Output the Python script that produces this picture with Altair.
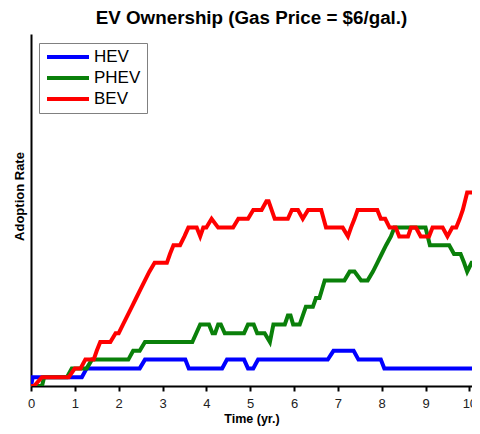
import altair as alt
import pandas as pd

SERIES = ["HEV", "PHEV", "BEV"]
COLORS = ["#0000ff", "#0a800a", "#ff0000"]
X_TICKS = [0, 1, 2, 3, 4, 5, 6, 7, 8, 9, 10]

HEV_T = [0, 0.04, 1.16, 1.27, 2.48, 2.6, 3.52, 3.6, 4.36, 4.47, 4.86, 4.95, 5.07, 5.18,
         6.77, 6.9, 7.36, 7.47, 7.98, 8.06, 10.14]
HEV_Y = [0, 1, 1, 2, 2, 3, 3, 2, 2, 3, 3, 2, 2, 3,
         3, 4, 4, 3, 3, 2, 2]

PHEV_T = [0, 0.25, 0.3, 0.82, 0.93, 1.27, 1.39, 2.22, 2.33, 2.48,
          2.6, 3.68, 3.77, 3.86, 4.06, 4.14, 4.2, 4.27, 4.33, 4.42,
          4.86, 4.95, 5.08, 5.16, 5.33, 5.45, 5.53, 5.79, 5.86, 5.92,
          5.98, 6.13, 6.2, 6.27, 6.43, 6.5, 6.58, 6.64, 6.7, 7.15,
          7.27, 7.38, 7.53, 7.68, 7.8, 7.9, 8.0, 8.1, 8.21, 8.29,
          9.0, 9.1, 9.54, 9.65, 9.8, 9.88, 9.95, 10.05, 10.14]
PHEV_Y = [0, 0, 1, 1, 2, 2, 3, 3, 4, 4,
          5, 5, 6, 7, 7, 6, 6, 7, 7, 6,
          6, 7, 7, 6, 6, 5, 7, 7, 8, 8,
          7, 7, 8, 9, 9, 10, 10, 11, 12, 12,
          13, 13, 12, 12, 13, 14, 15, 16, 17, 18,
          18, 16, 16, 15, 15, 14, 13, 14, 14]

BEV_T = [0, 0.07, 0.25, 0.86, 1.0, 1.13, 1.24, 1.43, 1.5, 1.58,
         1.81, 1.93, 2.0, 2.1, 2.2, 2.3, 2.4, 2.5, 2.6, 2.7,
         2.82, 3.1, 3.17, 3.25, 3.4, 3.5, 3.59, 3.78, 3.86, 3.93,
         4.0, 4.12, 4.27, 4.61, 4.73, 4.95, 5.07, 5.26, 5.37, 5.42,
         5.56, 5.86, 5.95, 6.09, 6.2, 6.32, 6.62, 6.73, 7.11, 7.23,
         7.3, 7.38, 7.45, 7.9, 7.98, 8.08, 8.18, 8.32, 8.4, 8.6,
         8.67, 8.78, 8.89, 9.08, 9.16, 9.39, 9.5, 9.61, 9.7, 9.78,
         9.85, 9.9, 9.95, 10.14]
BEV_Y = [0, 0, 1, 1, 2, 2, 3, 3, 4, 5,
         5, 6, 6, 7, 8, 9, 10, 11, 12, 13,
         14, 14, 15, 16, 16, 17, 18, 18, 17, 18,
         18, 19, 18, 18, 19, 19, 20, 20, 21, 21,
         19, 19, 20, 20, 19, 20, 20, 18, 18, 17,
         18, 19, 20, 20, 19, 19, 18, 18, 17, 17,
         18, 18, 17, 17, 18, 18, 17, 18, 18, 19,
         20, 21, 22, 22]

rows = []
for name, ts, ys in [("HEV", HEV_T, HEV_Y), ("PHEV", PHEV_T, PHEV_Y), ("BEV", BEV_T, BEV_Y)]:
    for t, y in zip(ts, ys):
        rows.append({"series": name, "t": t, "level": y})
df = pd.DataFrame(rows)

FONT = "Liberation Sans"

chart = alt.Chart(df).mark_line(strokeWidth=4, clip=True).encode(
    x=alt.X("t:Q",
            scale=alt.Scale(domain=[0, 10.06], nice=False, zero=False),
            axis=alt.Axis(title="Time (yr.)", values=X_TICKS, grid=False,
                          tickSize=5, tickWidth=2, tickColor="black",
                          domainColor="black", domainWidth=2,
                          labelFont=FONT, labelFontSize=13, labelColor="#222222",
                          labelPadding=6, labelFlush=False, labelOverlap=False,
                          titleFont=FONT, titleFontSize=12.5, titleFontWeight="bold",
                          titleColor="black", titleY=36.5, titleBaseline="alphabetic")),
    y=alt.Y("level:Q",
            scale=alt.Scale(domain=[0, 40], nice=False),
            axis=alt.Axis(title="Adoption Rate", labels=False, ticks=False, grid=False,
                          domainColor="black", domainWidth=2,
                          titleFont=FONT, titleFontSize=13, titleFontWeight="bold",
                          titleColor="black", titleX=-7.5, titleY=162,
                          titleBaseline="alphabetic", titleAlign="center", titleAngle=270)),
    color=alt.Color("series:N",
                    scale=alt.Scale(domain=SERIES, range=COLORS),
                    sort=SERIES,
                    legend=alt.Legend(title=None, orient="none", legendX=8, legendY=9,
                                      symbolType="stroke", symbolSize=1764,
                                      symbolStrokeWidth=4, clipHeight=16, rowPadding=4,
                                      labelFont=FONT, labelFontSize=17, labelColor="black",
                                      labelOffset=3, padding=6, strokeColor="#808080",
                                      fillColor="white")),
).properties(
    width=441,
    height=352,
    title=alt.Title("EV Ownership (Gas Price = $6/gal.)", font=FONT, fontSize=18.8,
                    fontWeight="bold", color="black", anchor="middle", offset=6),
    autosize=alt.AutoSizeParams(type="none"),
    padding={"left": 23, "top": 26, "right": 0, "bottom": 40},
).configure_view(stroke=None)

chart.save("out.html", embed_options={"renderer": "svg", "actions": False})
